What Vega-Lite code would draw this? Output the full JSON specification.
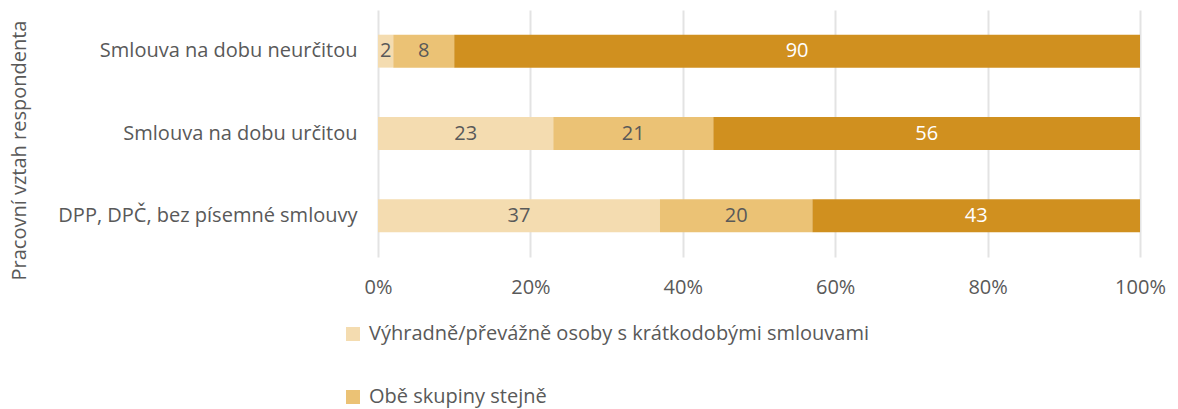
{
  "$schema": "https://vega.github.io/schema/vega-lite/v6.json",
  "autosize": {"type": "none"},
  "width": 762,
  "height": 247,
  "padding": {"left": 378, "top": 10, "right": 38, "bottom": 152},
  "background": "#ffffff",
  "config": {
    "font": "Open Sans",
    "view": {"stroke": null},
    "axis": {"labelFont": "Open Sans", "titleFont": "Open Sans"},
    "legend": {"labelFont": "Open Sans"}
  },
  "data": {
    "values": [
      {"vztah": "Smlouva na dobu neurčitou", "skupina": "Výhradně/převážně osoby s krátkodobými smlouvami", "poradi": 1, "podil": 2},
      {"vztah": "Smlouva na dobu neurčitou", "skupina": "Obě skupiny stejně", "poradi": 2, "podil": 8},
      {"vztah": "Smlouva na dobu neurčitou", "skupina": "Výhradně/převážně osoby se smlouvami na dobu neurčitou", "poradi": 3, "podil": 90},
      {"vztah": "Smlouva na dobu určitou", "skupina": "Výhradně/převážně osoby s krátkodobými smlouvami", "poradi": 1, "podil": 23},
      {"vztah": "Smlouva na dobu určitou", "skupina": "Obě skupiny stejně", "poradi": 2, "podil": 21},
      {"vztah": "Smlouva na dobu určitou", "skupina": "Výhradně/převážně osoby se smlouvami na dobu neurčitou", "poradi": 3, "podil": 56},
      {"vztah": "DPP, DPČ, bez písemné smlouvy", "skupina": "Výhradně/převážně osoby s krátkodobými smlouvami", "poradi": 1, "podil": 37},
      {"vztah": "DPP, DPČ, bez písemné smlouvy", "skupina": "Obě skupiny stejně", "poradi": 2, "podil": 20},
      {"vztah": "DPP, DPČ, bez písemné smlouvy", "skupina": "Výhradně/převážně osoby se smlouvami na dobu neurčitou", "poradi": 3, "podil": 43}
    ]
  },
  "encoding": {
    "y": {
      "field": "vztah",
      "type": "nominal",
      "sort": ["Smlouva na dobu neurčitou", "Smlouva na dobu určitou", "DPP, DPČ, bez písemné smlouvy"],
      "scale": {"paddingInner": 0.6, "paddingOuter": 0.3},
      "axis": {
        "title": "Pracovní vztah respondenta",
        "titleFontSize": 20,
        "titleFontWeight": "normal",
        "titleColor": "#595959",
        "titleX": -359,
        "titleY": 140,
        "titleBaseline": "middle",
        "titleAngle": -90,
        "labelFontSize": 20,
        "labelColor": "#595959",
        "labelPadding": 21,
        "labelLimit": 400,
        "ticks": false,
        "tickSize": 0,
        "domain": false,
        "grid": false
      }
    },
    "x": {
      "field": "podil",
      "type": "quantitative",
      "stack": "normalize",
      "scale": {"domain": [0, 1], "nice": false},
      "axis": {
        "title": null,
        "format": ".0%",
        "values": [0, 0.2, 0.4, 0.6, 0.8, 1],
        "labelFontSize": 20,
        "labelColor": "#595959",
        "labelPadding": 20,
        "labelFlush": false,
        "ticks": false,
        "tickSize": 0,
        "domain": false,
        "grid": true,
        "gridColor": "#e3e3e3",
        "gridWidth": 2
      }
    },
    "order": {"field": "poradi", "type": "quantitative"}
  },
  "layer": [
    {
      "mark": {"type": "bar"},
      "encoding": {
        "color": {
          "field": "skupina",
          "type": "nominal",
          "scale": {
            "domain": ["Výhradně/převážně osoby s krátkodobými smlouvami", "Obě skupiny stejně", "Výhradně/převážně osoby se smlouvami na dobu neurčitou"],
            "range": ["#f4dcb0", "#ebc275", "#d0901f"]
          },
          "legend": {
            "title": null,
            "values": ["Výhradně/převážně osoby s krátkodobými smlouvami", "Obě skupiny stejně"],
            "orient": "none",
            "legendX": -35,
            "legendY": 314,
            "direction": "vertical",
            "symbolType": "square",
            "symbolSize": 196,
            "symbolStrokeWidth": 0,
            "labelFontSize": 20,
            "labelColor": "#595959",
            "labelLimit": 800,
            "labelOffset": 6,
            "rowPadding": 43
          }
        }
      }
    },
    {
      "mark": {"type": "text", "fontSize": 20, "baseline": "middle", "align": "center"},
      "encoding": {
        "x": {"field": "podil", "type": "quantitative", "stack": "normalize", "bandPosition": 0.5},
        "text": {"field": "podil", "type": "quantitative"},
        "color": {
          "condition": {"test": "datum.poradi === 3", "value": "#ffffff"},
          "value": "#595959"
        }
      }
    }
  ]
}
